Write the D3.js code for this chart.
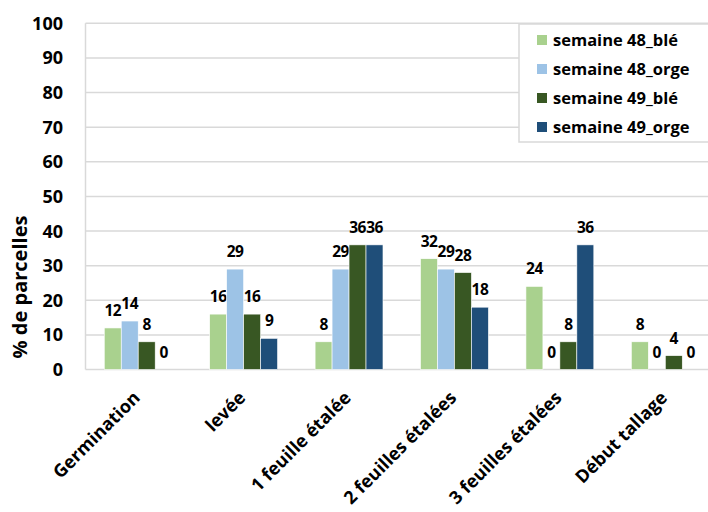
<!DOCTYPE html>
<html>
<head>
<meta charset="utf-8">
<script src="https://cdn.jsdelivr.net/npm/d3@7"></script>
<style>
  body { margin: 0; background: #fff; }
  svg { display: block; font-family: "Open Sans", Lato, sans-serif; font-weight: 700; }
</style>
</head>
<body>
<div id="root"></div>
<script>
const categories = ['Germination', 'levée', '1 feuille étalée', '2 feuilles étalées', '3 feuilles étalées', 'Début tallage']
const series = ['semaine 48_blé', 'semaine 48_orge', 'semaine 49_blé', 'semaine 49_orge']
const s48ble = [12, 16, 8, 32, 24, 8]
const s48orge = [14, 29, 29, 29, 0, 0]
const s49ble = [8, 16, 36, 28, 8, 4]
const s49orge = [0, 9, 36, 18, 36, 0]
const yTicks = [0, 10, 20, 30, 40, 50, 60, 70, 80, 90, 100]
const colors = ['#a9d18e', '#9dc3e6', '#385723', '#1f4e79']

const values = [s48ble, s48orge, s49ble, s49orge]
const W = 708, H = 512

let svg = d3.select('#root').append('svg')
  .attr('width', W).attr('height', H)

// plot area runs a bit past the right edge (cropped like the original)
let x0 = d3.scaleBand().domain(categories).range([85.5, 718])
let x1 = d3.scaleBand().domain(series)
  .range([x0.bandwidth() * 0.178, x0.bandwidth() * 0.822])
let y = d3.scaleLinear().domain([0, 100]).range([369.5, 23.3])

// grid
svg.append('g').selectAll('line')
  .data(yTicks).enter()
  .append('line')
  .attr('x1', 85.5).attr('x2', W)
  .attr('y1', d => y(d)).attr('y2', d => y(d))
  .attr('stroke', '#d9d9d9').attr('stroke-width', 1.5)

svg.append('line')
  .attr('x1', 85.5).attr('x2', 85.5)
  .attr('y1', y(100)).attr('y2', y(0))
  .attr('stroke', '#d9d9d9').attr('stroke-width', 1.5)

// y tick labels
svg.append('g').selectAll('text')
  .data(yTicks).enter()
  .append('text')
  .attr('x', 63).attr('y', d => y(d))
  .attr('dy', '0.36em')
  .attr('text-anchor', 'end')
  .attr('font-size', 18)
  .attr('fill', '#000')
  .text(d => d)

// y title
svg.append('text')
  .attr('transform', 'translate(27,287) rotate(-90)')
  .attr('text-anchor', 'middle')
  .attr('font-size', 20)
  .text('% de parcelles')

// bars
let groups = svg.append('g').selectAll('g')
  .data(categories).enter()
  .append('g')
  .attr('transform', d => `translate(${x0(d)},0)`)

let cells = groups.selectAll('g')
  .data((c, i) => series.map((s, j) => ({ s, j, v: values[j][i] })))
  .enter().append('g')

cells.append('rect')
  .attr('x', d => x1(d.s))
  .attr('y', d => y(d.v))
  .attr('width', x1.bandwidth())
  .attr('height', d => y(0) - y(d.v))
  .attr('fill', d => colors[d.j])
  .attr('stroke', '#fff').attr('stroke-width', 0.6)

cells.append('text')
  .attr('x', d => x1(d.s) + x1.bandwidth() / 2)
  .attr('y', d => y(d.v) - 12)
  .attr('text-anchor', 'middle')
  .attr('font-size', 15.5)
  .attr('letter-spacing', -0.5)
  .text(d => d.v)

// x labels
svg.append('g').selectAll('text')
  .data(categories).enter()
  .append('text')
  .attr('transform', d => `translate(${x0(d) + x0.bandwidth() / 2 + 3},399) rotate(-45)`)
  .attr('text-anchor', 'end')
  .attr('font-size', 18)
  .text(d => d)

// legend
let lg = svg.append('g').attr('transform', 'translate(519,24)')
lg.append('rect')
  .attr('width', 190).attr('height', 118)
  .attr('fill', '#fff').attr('stroke', '#d9d9d9').attr('stroke-width', 1.5)
let items = lg.selectAll('g.item')
  .data(series).enter()
  .append('g').attr('class', 'item')
  .attr('transform', (d, i) => `translate(18,${16 + i * 29})`)
items.append('rect')
  .attr('x', 0).attr('y', -5)
  .attr('width', 10).attr('height', 10)
  .attr('fill', (d, i) => colors[i])
items.append('text')
  .attr('x', 16).attr('dy', '0.36em')
  .attr('font-size', 16.5)
  .text(d => d)
</script>
</body>
</html>
